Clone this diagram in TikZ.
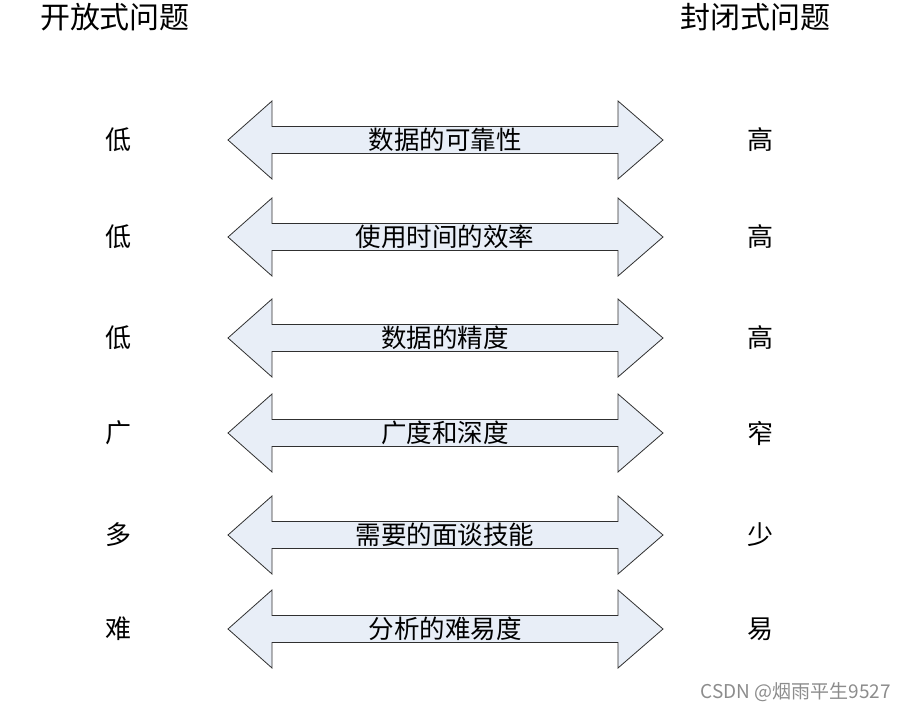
\documentclass[tikz,border=0pt]{standalone}
\usepackage{fontspec}
\setmainfont{Noto Sans CJK SC}
\newfontfamily\wmfont{Noto Sans CJK SC}
\definecolor{arrfill}{HTML}{E8EEF7}
\definecolor{arrline}{HTML}{303030}
\tikzset{
  x=1pt, y=-1pt,
  arrowshape/.style={draw=arrline, fill=arrfill, line width=0.8pt, line join=miter},
  dblarrow/.pic={\draw[arrowshape] (-217.5,0) -- (-173.5,-39) -- (-173.5,-13.5) -- (172.5,-13.5) -- (172.5,-39) -- (217.5,0) -- (172.5,39) -- (172.5,13.5) -- (-173.5,13.5) -- (-173.5,39) -- cycle;},
  sidelabel/.style={font=\fontsize{26}{28}\selectfont, inner sep=0pt},
  midlabel/.style={font=\fontsize{25.5}{27}\selectfont, inner sep=0pt},
  title/.style={font=\fontsize{30}{32}\selectfont, inner sep=0pt},
  watermark/.style={font=\wmfont\fontsize{19}{21}\selectfont, text=black!45, inner sep=0pt}
}
\begin{document}
\begin{tikzpicture}
\useasboundingbox (0,0) rectangle (906,712);
\node[title] (tl) at (115,17) {开放式问题};
\node[title] (tr) at (755,17) {封闭式问题};
\foreach \y/\l/\m/\r [count=\i] in {140/低/数据的可靠性/高, 237/低/使用时间的效率/高, 338/低/数据的精度/高, 433/广/广度和深度/窄, 535/多/需要的面谈技能/少, 629/难/分析的难易度/易} {
  \pic at (445.5,\y) {dblarrow};
  \node[midlabel] (m\i) at (445,\y) {\m};
  \node[sidelabel] (l\i) at (118,\y) {\l};
  \node[sidelabel] (r\i) at (760,\y) {\r};
}
\node[watermark, anchor=east] (wm) at (891,692) {CSDN @烟雨平生9527};
\end{tikzpicture}
\end{document}
